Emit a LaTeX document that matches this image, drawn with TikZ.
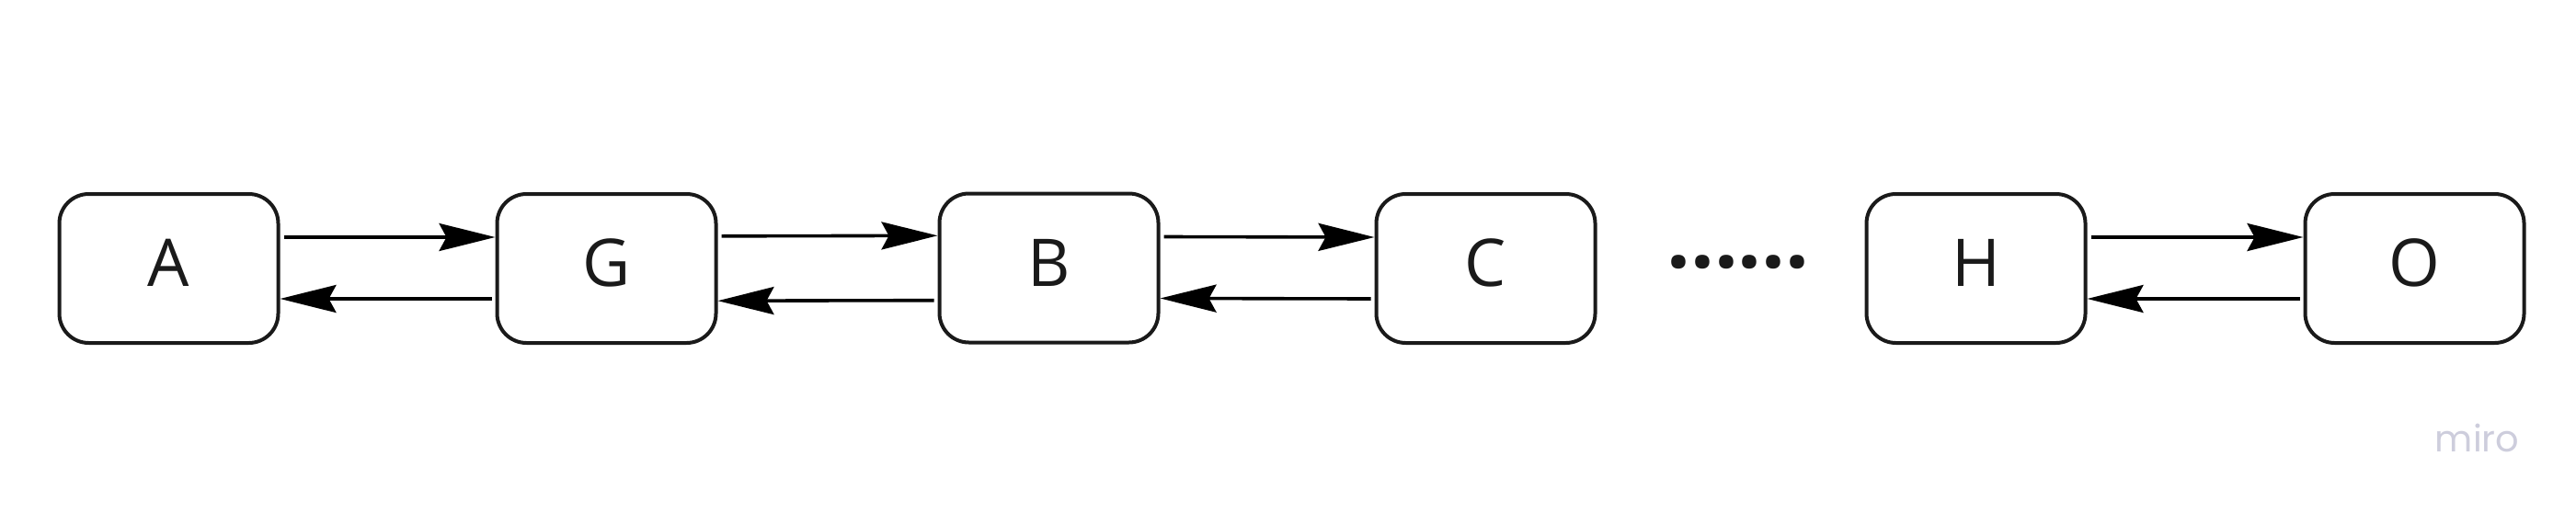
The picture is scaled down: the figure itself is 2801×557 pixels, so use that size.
\documentclass[tikz,border=0pt]{standalone}
\usepackage{fontspec}
\setmainfont{Open Sans}
\newfontfamily\dotsfont{Open Sans}[BoldFont={* Bold}]
\newfontfamily\mirofont{Poppins}
\usetikzlibrary{arrows.meta}
\definecolor{boxtext}{HTML}{1A1A1A}
\definecolor{mirogray}{HTML}{CDCDDC}
\begin{document}
\begin{tikzpicture}[x=0.25pt,y=-0.25pt,
  stepbox/.style={draw=boxtext,line width=1pt,rounded corners=8pt,
    minimum width=59.5pt,minimum height=40.5pt,inner sep=0pt,
    text height=12.8pt,text depth=3pt,
    text=boxtext,font=\fontsize{17.9pt}{20pt}\selectfont},
  arr/.style={line width=0.9pt,draw=black,
    -{Stealth[length=15.25pt,width=7.5pt,inset=2pt]}}]
\useasboundingbox (0,0) rectangle (2801,557);
\node[stepbox] (A) at (183.5,292) {A};
\node[stepbox] (G) at (659.5,292) {G};
\node[stepbox] (B) at (1140.5,291.5) {B};
\node[stepbox] (C) at (1615.5,292) {C};
\node[stepbox] (H) at (2148.5,292) {H};
\node[stepbox] (O) at (2625.5,292) {O};
\node[inner sep=0pt,text=boxtext,font=\dotsfont\bfseries\fontsize{22.7pt}{24pt}\selectfont] (dots) at (1890,285) {......};
\node[anchor=base west,inner sep=0pt,text=mirogray,font=\mirofont\fontsize{10pt}{12pt}\selectfont] (miro) at (2647,491.7) {miro};
% arrows
\draw[arr] ([xshift=1pt,yshift=8.5pt]A.east) -- ([yshift=8.5pt]G.west);
\draw[arr] ([xshift=-1pt,yshift=-8.25pt]G.west) -- ([yshift=-8.25pt]A.east);
\draw[arr] ([xshift=1pt,yshift=8.8pt]G.east) -- ([yshift=8.8pt]B.west);
\draw[arr] ([xshift=-1pt,yshift=-8.8pt]B.west) -- ([yshift=-8.8pt]G.east);
\draw[arr] ([xshift=1pt,yshift=8.5pt]B.east) -- ([yshift=8.5pt]C.west);
\draw[arr] ([xshift=-1pt,yshift=-8.25pt]C.west) -- ([yshift=-8.25pt]B.east);
\draw[arr] ([xshift=1pt,yshift=8.5pt]H.east) -- ([yshift=8.5pt]O.west);
\draw[arr] ([xshift=-1pt,yshift=-8.25pt]O.west) -- ([yshift=-8.25pt]H.east);
\end{tikzpicture}
\end{document}
